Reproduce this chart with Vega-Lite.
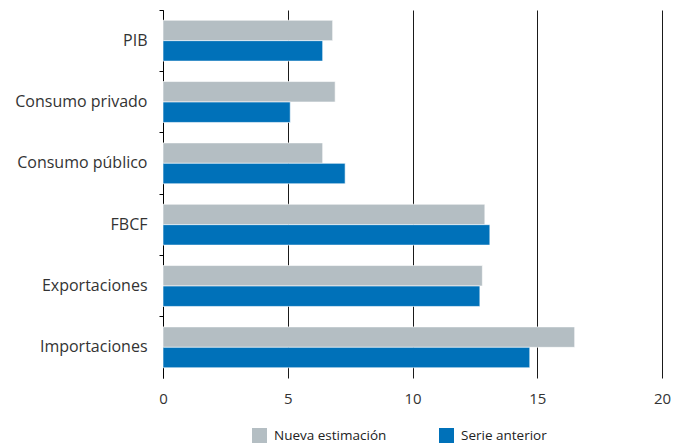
{
  "$schema": "https://vega.github.io/schema/vega-lite/v6.json",
  "autosize": "none",
  "width": 499,
  "height": 368,
  "padding": {"left": 163, "top": 10, "right": 26, "bottom": 68},
  "background": "white",
  "config": {
    "view": {"stroke": null},
    "font": "Open Sans"
  },
  "data": {
    "values": [
      {"categoria": "PIB", "serie": "Nueva estimación", "valor": 6.8},
      {"categoria": "PIB", "serie": "Serie anterior", "valor": 6.4},
      {"categoria": "Consumo privado", "serie": "Nueva estimación", "valor": 6.9},
      {"categoria": "Consumo privado", "serie": "Serie anterior", "valor": 5.1},
      {"categoria": "Consumo público", "serie": "Nueva estimación", "valor": 6.4},
      {"categoria": "Consumo público", "serie": "Serie anterior", "valor": 7.3},
      {"categoria": "FBCF", "serie": "Nueva estimación", "valor": 12.9},
      {"categoria": "FBCF", "serie": "Serie anterior", "valor": 13.1},
      {"categoria": "Exportaciones", "serie": "Nueva estimación", "valor": 12.8},
      {"categoria": "Exportaciones", "serie": "Serie anterior", "valor": 12.7},
      {"categoria": "Importaciones", "serie": "Nueva estimación", "valor": 16.5},
      {"categoria": "Importaciones", "serie": "Serie anterior", "valor": 14.7}
    ]
  },
  "mark": {"type": "bar", "stroke": "white", "strokeWidth": 0.6},
  "encoding": {
    "y": {
      "field": "categoria",
      "type": "nominal",
      "sort": ["PIB", "Consumo privado", "Consumo público", "FBCF", "Exportaciones", "Importaciones"],
      "scale": {"paddingInner": 0, "paddingOuter": 0},
      "axis": {
        "title": null,
        "bandPosition": 0,
        "domain": true,
        "domainColor": "#000000",
        "domainWidth": 1,
        "ticks": true,
        "tickColor": "#000000",
        "tickSize": 4,
        "labelFontSize": 16,
        "labelColor": "#333333",
        "labelPadding": 12,
        "labelFontWeight": "normal"
      }
    },
    "yOffset": {
      "field": "serie",
      "type": "nominal",
      "sort": ["Nueva estimación", "Serie anterior"],
      "scale": {"paddingInner": 0, "paddingOuter": 0.5}
    },
    "x": {
      "field": "valor",
      "type": "quantitative",
      "scale": {"domain": [0, 20]},
      "axis": {
        "title": null,
        "values": [0, 5, 10, 15, 20],
        "grid": true,
        "gridColor": "#1a1a1a",
        "gridWidth": 1,
        "domain": false,
        "ticks": false,
        "labelFlush": false,
        "labelFontSize": 15,
        "labelColor": "#333333",
        "labelPadding": 13,
        "labelFontWeight": "normal"
      }
    },
    "color": {
      "field": "serie",
      "type": "nominal",
      "scale": {"domain": ["Nueva estimación", "Serie anterior"], "range": ["#b4bec3", "#0071b9"]},
      "legend": {
        "title": null,
        "orient": "none",
        "legendX": 89,
        "legendY": 418,
        "direction": "horizontal",
        "symbolType": "square",
        "symbolSize": 225,
        "symbolStrokeWidth": 0,
        "labelFontSize": 13.5,
        "labelColor": "#222222",
        "labelOffset": 7,
        "columnPadding": 52
      }
    }
  }
}
